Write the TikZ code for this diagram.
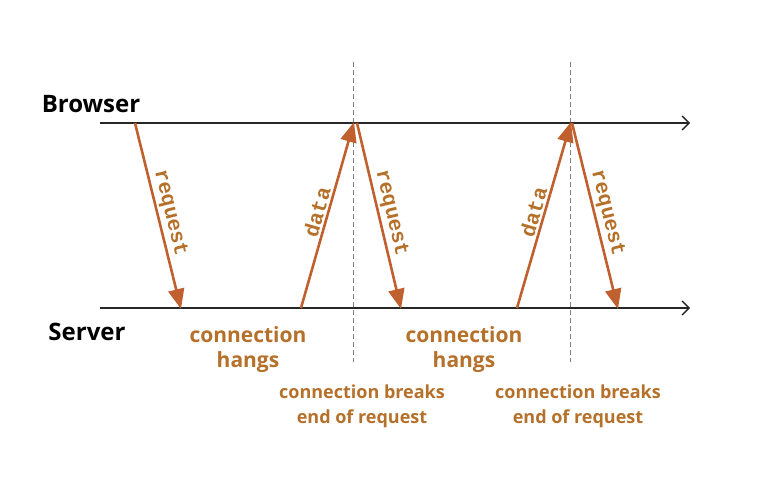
\documentclass[tikz,border=0pt]{standalone}
\usepackage{fontspec}
\setmainfont{Open Sans}
\setmonofont{Liberation Mono}
\usepackage{tikz}
\usetikzlibrary{arrows.meta}

\definecolor{arrowrust}{HTML}{C0602F}
\definecolor{labelgold}{HTML}{B5702A}

\tikzset{
    timeline/.style={draw=black!85, line width=1.3pt, -{Straight Barb[length=7pt,width=14pt,line width=1.3pt]}},
    breakline/.style={draw=black!50, line width=1pt, dash pattern=on 5pt off 3pt},
    msg/.style={draw=arrowrust, line width=2.6pt, -{Triangle[length=20pt,width=16pt]}},
    msglabel/.style={text=labelgold, font=\ttfamily\bfseries\fontsize{21}{21}\selectfont, sloped, above, inner sep=2pt},
    side/.style={font=\bfseries\fontsize{24}{24}\selectfont},
    note/.style={text=labelgold, font=\bfseries\fontsize{21}{25}\selectfont, align=center},
    smallnote/.style={text=labelgold, font=\bfseries\fontsize{18}{25}\selectfont, align=center}
}

\begin{document}
\begin{tikzpicture}[x=1pt, y=-1pt]
    \useasboundingbox (0,0) rectangle (783,481);

    % time lines
    \coordinate (bstart) at (100,123);
    \coordinate (bend) at (690,123);
    \coordinate (sstart) at (100,308);
    \coordinate (send) at (690,308);
    \node [side] (browser) at (91,104) {Browser};
    \node [side] (server) at (87,332) {Server};

    % connection breaks
    \coordinate (cut1top) at (353,62);
    \coordinate (cut1bot) at (353,362);
    \coordinate (cut2top) at (570,62);
    \coordinate (cut2bot) at (570,362);
    \draw [breakline] (cut1top) -- (cut1bot);
    \draw [breakline] (cut2top) -- (cut2bot);

    \draw [timeline] (bstart) -- (bend);
    \draw [timeline] (sstart) -- (send);

    % messages
    \coordinate (req1a) at (135,123);
    \coordinate (req1b) at (181,309);
    \coordinate (dat1a) at (301,308);
    \coordinate (dat1b) at (354,122);
    \coordinate (req2a) at (357,123);
    \coordinate (req2b) at (401,309);
    \coordinate (dat2a) at (517,308);
    \coordinate (dat2b) at (571,122);
    \coordinate (req3a) at (572,123);
    \coordinate (req3b) at (618,309);

    \draw [msg] (req1a) -- node [msglabel] {request} (req1b);
    \draw [msg] (dat1a) -- node [msglabel] {data} (dat1b);
    \draw [msg] (req2a) -- node [msglabel] {request} (req2b);
    \draw [msg] (dat2a) -- node [msglabel] {data} (dat2b);
    \draw [msg] (req3a) -- node [msglabel] {request} (req3b);

    % notes
    \node [note] (hangs1) at (248,350) {connection\\hangs};
    \node [note] (hangs2) at (464,350) {connection\\hangs};
    \node [smallnote] (breaks1) at (362,406) {connection breaks\\end of request};
    \node [smallnote] (breaks2) at (578,406) {connection breaks\\end of request};
\end{tikzpicture}
\end{document}
